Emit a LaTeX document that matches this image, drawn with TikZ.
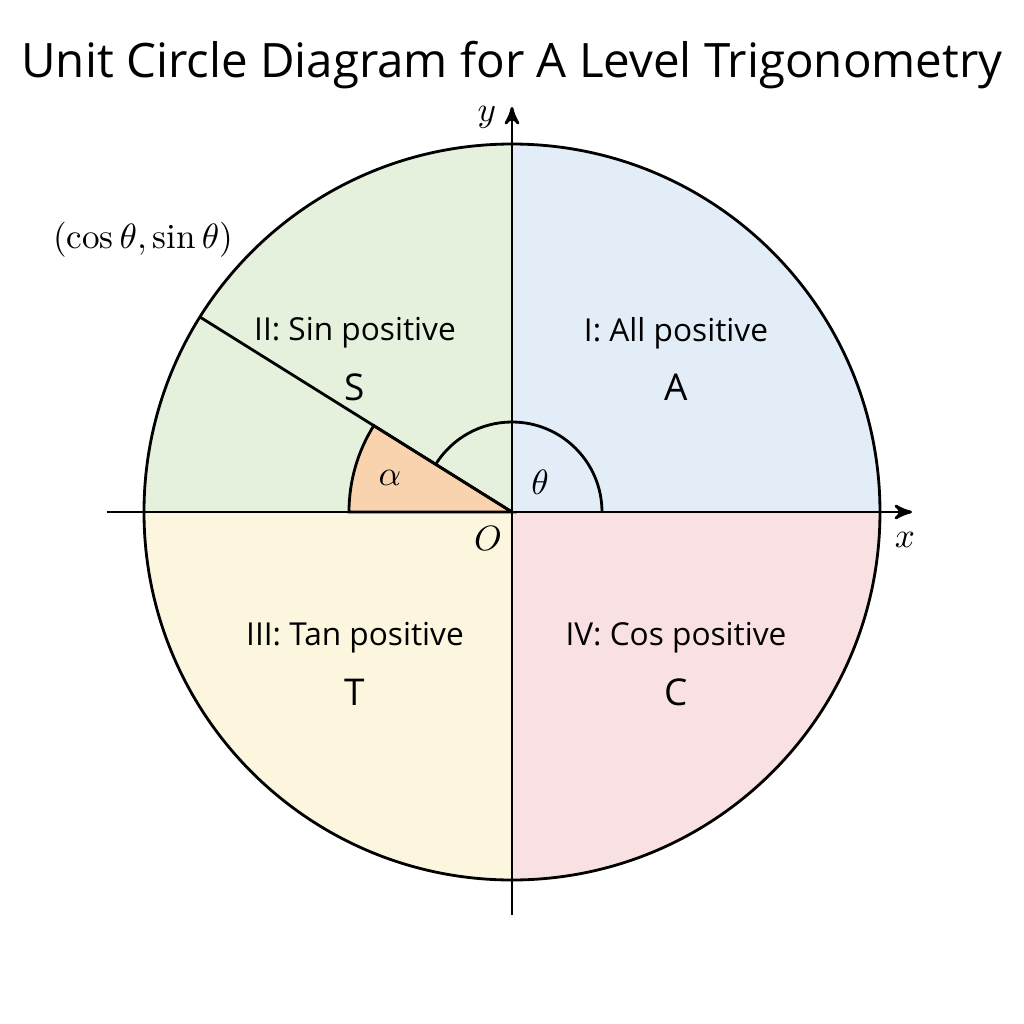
\documentclass[tikz,border=0pt]{standalone}
\usepackage{fontspec}
\setsansfont{Open Sans}
\usepackage{amsmath}
\usepackage{tikz}
\usetikzlibrary{arrows}
\definecolor{qone}{HTML}{E3EDF7}
\definecolor{qtwo}{HTML}{E5F0DD}
\definecolor{qthree}{HTML}{FBF6DD}
\definecolor{qfour}{HTML}{F9E1E3}
\definecolor{wedge}{HTML}{F8D3AE}
\tikzset{
  quad/.style={font=\sffamily\fontsize{9}{10}\selectfont},
  sign/.style={font=\sffamily\fontsize{10.5}{12}\selectfont},
  axis/.style={thick,-stealth'},
}
\begin{document}
\begin{tikzpicture}
    \useasboundingbox (-5.12,-5.12) rectangle (5.12,5.12);
    %
    \fill[qone] (0,0) -- (3.68,0) arc (0:90:3.68) -- cycle;
    \fill[qtwo] (0,0) -- (0,3.68) arc (90:180:3.68) -- cycle;
    \fill[qthree] (0,0) -- (-3.68,0) arc (180:270:3.68) -- cycle;
    \fill[qfour] (0,0) -- (0,-3.68) arc (270:360:3.68) -- cycle;
    \fill[wedge,draw=black,thick] (0,0) -- (-1.63,0) arc (180:148:1.63) -- cycle;
    \draw[thick] (0.9,0) arc (0:148:0.9);
    \draw[thick] (0,0) circle (3.68);
    %
    \coordinate (O) at (0,0);
    \coordinate (P) at (148:3.68);
    \draw[thick] (O) -- (P);
    \draw[axis] (-4.05,0) -- (4.0,0);
    \draw[axis] (0,-4.03) -- (0,4.05);
    %
    \node (title) at (0,4.47) {\sffamily\fontsize{13.5}{15}\selectfont Unit Circle Diagram for A Level Trigonometry};
    \node (xlab) at (3.93,-0.28) {$x$};
    \node (ylab) at (-0.25,3.95) {$y$};
    \node (olab) at (-0.24,-0.26) {$O$};
    \node (alab) at (-1.22,0.34) {$\alpha$};
    \node (tlab) at (0.28,0.30) {$\theta$};
    \node (plab) at (-3.69,2.72) {$(\cos\theta,\sin\theta)$};
    %
    \node[quad] (q2) at (-1.57,1.79) {II: Sin positive};
    \node[sign] (s) at (-1.57,1.25) {S};
    \node[quad] (q1) at (1.64,1.79) {I: All positive};
    \node[sign] (a) at (1.64,1.25) {A};
    \node[quad] (q3) at (-1.57,-1.26) {III: Tan positive};
    \node[sign] (t) at (-1.57,-1.80) {T};
    \node[quad] (q4) at (1.64,-1.26) {IV: Cos positive};
    \node[sign] (c) at (1.64,-1.80) {C};
\end{tikzpicture}
\end{document}
